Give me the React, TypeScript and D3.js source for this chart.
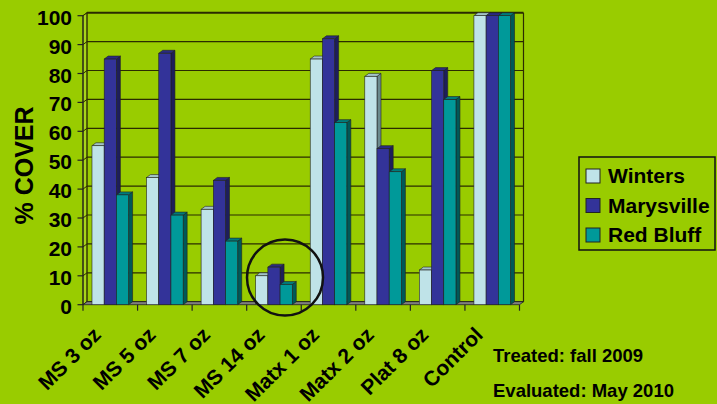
import React from "react";
import * as d3 from "d3";

const categories = ["MS 3 oz", "MS 5 oz", "MS 7 oz", "MS 14 oz", "Matx 1 oz", "Matx 2 oz", "Plat 8 oz", "Control"];
const seriesNames = ["Winters", "Marysville", "Red Bluff"];
const winters = [55, 44, 33, 10, 85, 79, 12, 100];
const marysville = [85, 87, 43, 13, 92, 54, 81, 100];
const redBluff = [38, 31, 22, 7, 63, 46, 71, 100];
const yTicks = [0, 10, 20, 30, 40, 50, 60, 70, 80, 90, 100];
const notes = ["Treated: fall 2009", "Evaluated: May 2010"];

const W = 717, H = 404;
const BG = "#99CC00";
const FONT = "'Liberation Sans', Arial, Helvetica, sans-serif";
const colors = [
  { front: "#BFE3E8", top: "#A3C4C8", side: "#6B8B8E" },
  { front: "#333399", top: "#2A2A82", side: "#1E1E5A" },
  { front: "#009999", top: "#007B7B", side: "#005858" },
];
const DX = 4, DY = -3;

export default function App() {
  const values = [winters, marysville, redBluff];
  const x = d3.scaleBand<string>().domain(categories).range([83, 519.5]).paddingInner(0).paddingOuter(0);
  const y = d3.scaleLinear().domain([0, 100]).range([304.7, 15.7]);
  const bw = x.bandwidth();
  const barW = 12.2;
  const groupPad = (bw - barW * 3) / 2;
  const x0 = 83, x1 = 519.5;
  const stroke = "#222";

  return (
    <svg width={W} height={H} style={{ position: "absolute", left: 0, top: 0 }} fontFamily={FONT}>
      <rect width={W} height={H} fill={BG} />
      {/* side wall */}
      <polygon points={`${x0},${y(0)} ${x0 + DX},${y(0) + DY} ${x0 + DX},${y(100) + DY} ${x0},${y(100)}`} fill="#A8D41A" stroke="#333300" strokeWidth={0.8} />
      {/* back wall gridlines */}
      {yTicks.map((t) => (
        <g key={"g" + t}>
          <line x1={x0 + DX} x2={x1 + DX} y1={y(t) + DY} y2={y(t) + DY} stroke="#2b2b00" strokeWidth={t === 100 ? 2 : 1.2} />
          <line x1={x0} x2={x0 + DX} y1={y(t)} y2={y(t) + DY} stroke="#2b2b00" strokeWidth={1} />
        </g>
      ))}
      <line x1={x1 + DX} x2={x1 + DX} y1={y(100) + DY} y2={y(0) + DY} stroke="#2b2b00" strokeWidth={1.2} />
      <line x1={x0 + DX} x2={x0 + DX} y1={y(100) + DY} y2={y(0) + DY} stroke="#2b2b00" strokeWidth={1} />
      {/* floor */}
      <polygon points={`${x0},${y(0)} ${x1},${y(0)} ${x1 + DX},${y(0) + DY} ${x0 + DX},${y(0) + DY}`} fill="#7F7F7F" stroke="#222" strokeWidth={0.8} />
      {/* y axis */}
      <line x1={x0} x2={x0} y1={y(100)} y2={y(0)} stroke="#222" strokeWidth={1.2} />
      {yTicks.map((t) => (
        <g key={"t" + t}>
          <line x1={x0 - 5.5} x2={x0} y1={y(t)} y2={y(t)} stroke="#222" strokeWidth={1.2} />
          <text x={72} y={y(t) + 9} textAnchor="end" fontSize={21} fontWeight="bold" fill="#000">{t}</text>
        </g>
      ))}
      {/* x ticks */}
      {d3.range(categories.length + 1).map((i) => (
        <line key={"xt" + i} x1={x0 + i * bw} x2={x0 + i * bw} y1={y(0)} y2={y(0) + 6} stroke="#222" strokeWidth={1.2} />
      ))}
      {/* bars */}
      {categories.map((c, ci) => (
        <g key={c}>
          {values.map((vals, si) => {
            const bx = (x(c) as number) + groupPad + si * barW;
            const by = y(vals[ci]);
            const b0 = y(0);
            const col = colors[si];
            return (
              <g key={si}>
                <polygon points={`${bx + barW},${by} ${bx + barW + DX},${by + DY} ${bx + barW + DX},${b0 + DY} ${bx + barW},${b0}`} fill={col.side} stroke={stroke} strokeWidth={0.6} />
                <polygon points={`${bx},${by} ${bx + barW},${by} ${bx + barW + DX},${by + DY} ${bx + DX},${by + DY}`} fill={col.top} stroke={stroke} strokeWidth={0.6} />
                <rect x={bx} y={by} width={barW} height={b0 - by} fill={col.front} stroke={stroke} strokeWidth={0.6} />
              </g>
            );
          })}
        </g>
      ))}
      {/* category labels */}
      {categories.map((c) => {
        const cx = (x(c) as number) + bw / 2 - 8;
        const cy = 336;
        return (
          <text key={"l" + c} x={cx} y={cy} textAnchor="end" fontSize={21} fontWeight="bold" fill="#000" transform={`rotate(-45 ${cx} ${cy})`}>{c}</text>
        );
      })}
      {/* y label */}
      <text x={33} y={165.5} textAnchor="middle" fontSize={25} fontWeight="bold" fill="#000" transform={`rotate(-90 33 165.5)`}>% COVER</text>
      {/* legend */}
      <rect x={579} y={157} width={136} height={93} fill="none" stroke="#111" strokeWidth={1.5} />
      {seriesNames.map((s, i) => (
        <g key={s}>
          <rect x={586} y={169 + i * 29.5} width={14} height={14} fill={colors[i].front} stroke="#222" strokeWidth={1} />
          <text x={608} y={183 + i * 29.5} fontSize={21} fontWeight="bold" fill="#000">{s}</text>
        </g>
      ))}
      {/* highlight circle */}
      <circle cx={285} cy={277.5} r={38} fill="none" stroke="#111" strokeWidth={2.5} />
      {/* notes */}
      {notes.map((n, i) => (
        <text key={n} x={493} y={362 + i * 34.5} fontSize={18.5} fontWeight="bold" fill="#000">{n}</text>
      ))}
    </svg>
  );
}
